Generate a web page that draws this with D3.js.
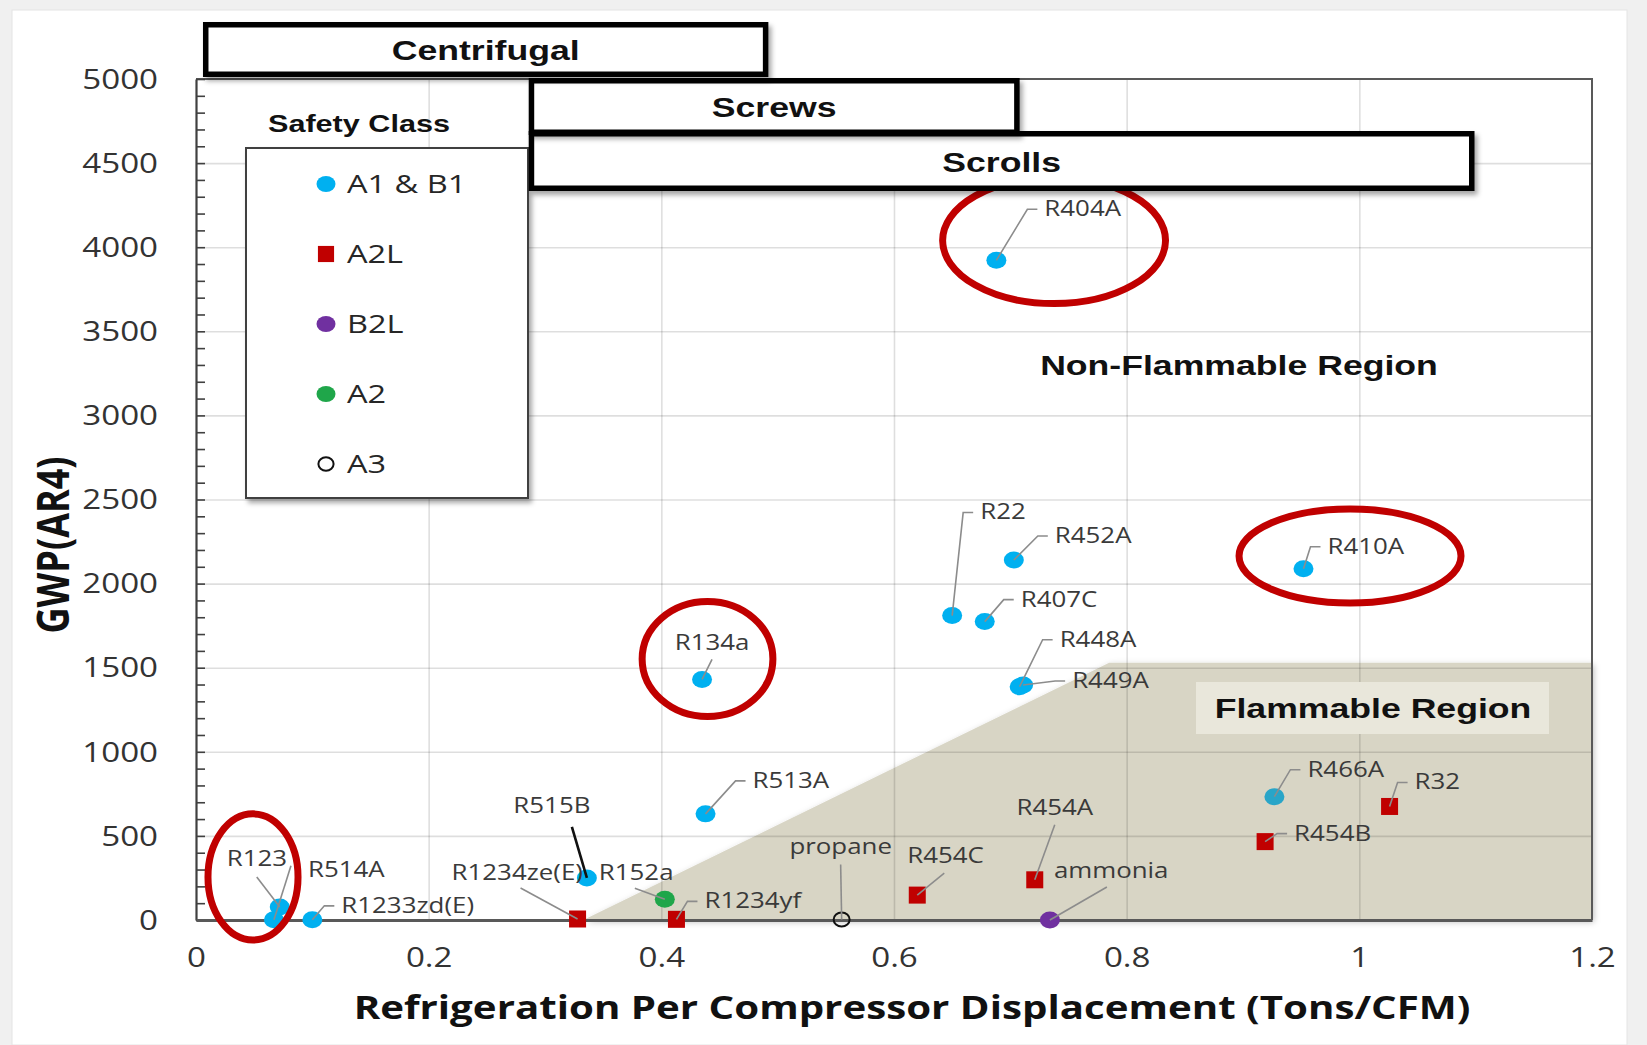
<!DOCTYPE html>
<html>
<head>
<meta charset="utf-8">
<script src="https://cdn.jsdelivr.net/npm/d3@7"></script>
<style>
  html, body { margin: 0; padding: 0; background: #f0f0f0; }
  svg { display: block; }
</style>
</head>
<body>
<svg id="chart" width="1647" height="1045"></svg>
<script>
// ---- Refrigerant data: capacity per displacement vs. GWP (AR4) ----
const refrigerants = ["R404A", "R22", "R452A", "R407C", "R448A", "R449A", "R410A", "R134a", "R513A",
  "R515B", "R1234ze(E)", "R152a", "R1234yf", "propane", "R454C", "R454A", "ammonia", "R466A",
  "R32", "R454B", "R123", "R514A", "R1233zd(E)"];
const tonsPerCfm = [0.688, 0.650, 0.703, 0.678, 0.708, 0.711, 0.952, 0.435, 0.438,
  0.336, 0.328, 0.403, 0.413, 0.555, 0.620, 0.721, 0.734, 0.927,
  1.026, 0.919, 0.072, 0.067, 0.100];
const gwpAR4 = [3922, 1810, 2140, 1774, 1387, 1397, 2088, 1430, 631,
  250, 6, 124, 4, 3, 148, 239, 0, 733,
  675, 466, 77, 2, 1];
const safetyClass = ["A1 & B1", "A1 & B1", "A1 & B1", "A1 & B1", "A1 & B1", "A1 & B1", "A1 & B1", "A1 & B1", "A1 & B1",
  "A1 & B1", "A2L", "A2", "A2L", "A3", "A2L", "A2L", "B2L", "A1 & B1",
  "A2L", "A2L", "A1 & B1", "A1 & B1", "A1 & B1"];

const legendClasses = ["A1 & B1", "A2L", "B2L", "A2", "A3"];
const xTickValues = [0, 0.2, 0.4, 0.6, 0.8, 1, 1.2];
const yTickValues = [0, 500, 1000, 1500, 2000, 2500, 3000, 3500, 4000, 4500, 5000];

// Compressor application ranges (Tons/CFM)
const compressorTypes = ["Centrifugal", "Screws", "Scrolls"];
const compressorFrom = [0.006, 0.286, 0.286];
const compressorTo = [0.492, 0.708, 1.099];

// Flammable region boundary
const regionX = [0.333, 0.785, 1.2, 1.2];
const regionY = [0, 1530, 1530, 0];

// ---- Styling / layout ----
const classColor = { "A1 & B1": "#00b0f0", "A2L": "#c00000", "B2L": "#7030a0", "A2": "#1fa64a", "A3": "none" };
const colorOverride = { "R466A": "#29a5c8" };
const SX = 1.25;                 // horizontal text stretch
const compressorBoxRows = { "Centrifugal": [22, 77], "Screws": [78, 135], "Scrolls": [131, 191] };

// callout placement relative to each marker (pixels)
const callouts = {
  "R404A": { dx: 48, dy: -52 },
  "R22": { dx: 28, dy: -104 },
  "R452A": { dx: 41, dy: -25 },
  "R407C": { dx: 36, dy: -23 },
  "R448A": { dx: 40, dy: -48 },
  "R449A": { dx: 49, dy: -5 },
  "R410A": { dx: 24, dy: -23 },
  "R134a": { dx: 10, dy: -37, anchor: "middle", from: [10, -20] },
  "R513A": { dx: 47, dy: -34 },
  "R515B": { dx: -35, dy: -73, anchor: "middle", from: [-15, -51], dark: true },
  "R1234ze(E)": { dx: -126, dy: -47, anchor: "start", from: [-57, -31] },
  "R152a": { dx: -66, dy: -27, anchor: "start", from: [-30, -11] },
  "R1234yf": { dx: 28, dy: -19 },
  "propane": { dx: -1, dy: -73, anchor: "middle", from: [-1, -55] },
  "R454C": { dx: -10, dy: -40, anchor: "start", from: [27, -22] },
  "R454A": { dx: 20, dy: -73, anchor: "middle", from: [20, -55] },
  "ammonia": { dx: 4, dy: -50, anchor: "start", from: [57, -33] },
  "R466A": { dx: 33, dy: -28 },
  "R32": { dx: 25, dy: -25 },
  "R454B": { dx: 29, dy: -9 },
  "R123": { dx: -53, dy: -49, anchor: "start", from: [-23, -30] },
  "R514A": { dx: 34, dy: -51, anchor: "start", from: [17, -54] },
  "R1233zd(E)": { dx: 29, dy: -15 }
};

// highlighted refrigerants (ellipse centre / radii in data units)
const highlights = [
  { cx: 0.7376, cy: 4040, rx: 0.0958, ry: 375 },
  { cx: 0.992, cy: 2164, rx: 0.0954, ry: 279 },
  { cx: 0.4397, cy: 1552, rx: 0.0562, ry: 342 },
  { cx: 0.049, cy: 256, rx: 0.0387, ry: 375 }
];

const data = refrigerants.map((name, i) => ({
  name, x: tonsPerCfm[i], y: gwpAR4[i], cls: safetyClass[i]
}));

const svg = d3.select("#chart");

const defs = svg.append("defs");
defs.append("filter").attr("id", "shadow").attr("x", "-10%").attr("y", "-20%").attr("width", "130%").attr("height", "160%")
  .append("feDropShadow").attr("dx", 3).attr("dy", 4).attr("stdDeviation", 2.5)
  .attr("flood-color", "#000").attr("flood-opacity", 0.35);
defs.append("filter").attr("id", "softShadow").attr("x", "-10%").attr("y", "-10%").attr("width", "130%").attr("height", "130%")
  .append("feDropShadow").attr("dx", 2).attr("dy", 2).attr("stdDeviation", 3)
  .attr("flood-color", "#000").attr("flood-opacity", 0.25);

// page panel
svg.append("rect").attr("x", 12).attr("y", 10).attr("width", 1615).attr("height", 1035)
  .attr("fill", "#ffffff").attr("stroke", "#e4e4e4");

const x = d3.scaleLinear().domain([0, 1.2]).range([196, 1592]);
const y = d3.scaleLinear().domain([0, 5000]).range([920, 79]);

function stext(parent, px, py, str, o) {
  const g = parent.append("g").attr("transform", `translate(${px},${py}) scale(${o.sx ?? SX},1)` + (o.rotate ? ` rotate(${o.rotate})` : ""));
  return g.append("text")
    .attr("text-anchor", o.anchor || "start")
    .attr("dy", "0.35em")
    .style("font-family", o.family || "'Open Sans', sans-serif")
    .style("font-size", o.size + "px")
    .style("font-weight", o.weight || 400)
    .attr("fill", o.fill || "#404040")
    .text(str);
}

// flammable region
const regionPts = regionX.map((v, i) => [x(v), y(regionY[i])]);
svg.append("path")
  .attr("d", d3.line()(regionPts) + "Z")
  .attr("fill", "#d8d5c5")
  .attr("filter", "url(#softShadow)");

// gridlines
svg.append("g").attr("transform", `translate(${x(0)},0)`)
  .call(d3.axisLeft(y).tickValues(yTickValues.slice(1, -1)).tickSize(-(x(1.2) - x(0))).tickFormat(""))
  .call(g => g.select(".domain").remove())
  .call(g => g.selectAll("line").attr("stroke", "rgba(0,0,0,0.13)").attr("stroke-width", 1.6));
svg.append("g").attr("transform", `translate(0,${y(0)})`)
  .call(d3.axisBottom(x).tickValues(xTickValues.slice(1, -1)).tickSize(-(y(0) - y(5000))).tickFormat(""))
  .call(g => g.select(".domain").remove())
  .call(g => g.selectAll("line").attr("stroke", "rgba(0,0,0,0.13)").attr("stroke-width", 1.6));

// plot frame (top, right)
svg.append("path")
  .attr("d", `M${x(0)},${y(5000)}H${x(1.2)}V${y(0)}`)
  .attr("fill", "none").attr("stroke", "#595959").attr("stroke-width", 2);

// y axis with inner minor ticks
svg.append("g").attr("transform", `translate(${x(0)},0)`)
  .call(d3.axisRight(y).tickValues(d3.range(0, 5001, 100)).tickSize(9).tickSizeOuter(0).tickFormat(""))
  .call(g => g.select(".domain").attr("stroke", "#404040").attr("stroke-width", 2.2))
  .call(g => g.selectAll("line").attr("stroke", "#404040").attr("stroke-width", 1.6));
svg.append("g").attr("transform", `translate(${x(0)},0)`)
  .call(d3.axisLeft(y).tickValues(yTickValues).tickSize(0).tickFormat(d3.format("d")))
  .call(g => g.select(".domain").remove())
  .call(g => g.selectAll("text")
    .attr("x", -38 / SX).attr("dy", "0.35em")
    .attr("transform", `scale(${SX},1)`)
    .attr("fill", "#333")
    .style("font-family", "'Open Sans', sans-serif").style("font-size", "26.5px"));

// x axis
svg.append("g").attr("transform", `translate(0,${y(0)})`)
  .call(d3.axisBottom(x).tickValues(xTickValues).tickSize(0).tickSizeOuter(0).tickFormat(d => String(+d.toFixed(1))))
  .call(g => g.select(".domain").attr("stroke", "#595959").attr("stroke-width", 3))
  .call(g => g.selectAll("text")
    .attr("y", 47).attr("dy", "0")
    .attr("transform", `scale(${SX},1)`)
    .attr("fill", "#333")
    .style("font-family", "'Open Sans', sans-serif").style("font-size", "26.5px"));

// axis titles
stext(svg, 912, 1007, "Refrigeration Per Compressor Displacement (Tons/CFM)",
  { size: 33, weight: 700, anchor: "middle", fill: "#111", sx: 1.22 });
stext(svg, 53, 545, "GWP(AR4)", { size: 36, weight: 700, anchor: "middle", fill: "#111", rotate: -90 });

// region labels
stext(svg, 1239, 365, "Non-Flammable Region",
  { size: 28.5, weight: 700, anchor: "middle", fill: "#111", family: "'Liberation Sans', Arial, sans-serif" });
svg.append("rect").attr("x", 1196).attr("y", 682).attr("width", 353).attr("height", 52).attr("fill", "#e9e7db");
stext(svg, 1373, 708, "Flammable Region",
  { size: 28.5, weight: 700, anchor: "middle", fill: "#111", family: "'Liberation Sans', Arial, sans-serif" });

// markers
function marker(g, cls, cx, cy, col, k = 1) {
  if (cls === "A2L") {
    g.append("rect").attr("x", cx - 8.5 * k).attr("y", cy - 8.5 * k)
      .attr("width", 17 * k).attr("height", 17 * k).attr("fill", col);
  } else if (cls === "A3") {
    g.append("ellipse").attr("cx", cx).attr("cy", cy).attr("rx", 8 * k).attr("ry", 7 * k)
      .attr("fill", "none").attr("stroke", "#111").attr("stroke-width", 2);
  } else {
    g.append("ellipse").attr("cx", cx).attr("cy", cy).attr("rx", 10 * k).attr("ry", 8.5 * k).attr("fill", col);
  }
}

const pointLayer = svg.append("g");
data.forEach(d => marker(pointLayer, d.cls, x(d.x), y(d.y), colorOverride[d.name] || classColor[d.cls]));

// callout leaders and labels
const labelLayer = svg.append("g");
data.forEach(d => {
  const c = callouts[d.name];
  const px = x(d.x), py = y(d.y);
  const lx = px + c.dx, ly = py + c.dy;
  let pts;
  if (c.from) {
    pts = [[px + c.from[0], py + c.from[1]], [px, py]];
  } else {
    pts = [[px, py], [lx - 17, ly + 1], [lx - 7, ly + 1]];
  }
  labelLayer.append("path")
    .attr("d", d3.line()(pts))
    .attr("fill", "none")
    .attr("stroke", c.dark ? "#111" : "#8c8c8c")
    .attr("stroke-width", c.dark ? 2.6 : 1.6);
  stext(labelLayer, lx, ly, d.name, { size: 22.5, anchor: c.anchor || "start", fill: "#3a3a3a", sx: 1.15 });
});

// highlight ellipses
svg.append("g").selectAll("ellipse").data(highlights).join("ellipse")
  .attr("cx", d => x(d.cx)).attr("cy", d => y(d.cy))
  .attr("rx", d => x(d.rx) - x(0)).attr("ry", d => y(0) - y(d.ry))
  .attr("fill", "none").attr("stroke", "#c00000").attr("stroke-width", 7);

// legend
const legend = svg.append("g");
legend.append("rect").attr("x", 246).attr("y", 148).attr("width", 282).attr("height", 350)
  .attr("fill", "#fff").attr("stroke", "#404040").attr("stroke-width", 2).attr("filter", "url(#shadow)");
stext(legend, 359, 123, "Safety Class",
  { size: 24.5, weight: 700, anchor: "middle", fill: "#111", family: "'Liberation Sans', Arial, sans-serif" });
legendClasses.forEach((cls, i) => {
  const ly = 184 + i * 70;
  marker(legend, cls, 326, ly, classColor[cls], 0.95);
  stext(legend, 347, ly, cls, { size: 26, fill: "#262626", sx: 1.25 });
});

// compressor type bars
const boxLayer = svg.append("g");
[2, 1, 0].forEach(i => {
  const name = compressorTypes[i];
  const [top, bottom] = compressorBoxRows[name];
  const x0 = x(compressorFrom[i]), x1 = x(compressorTo[i]);
  boxLayer.append("rect")
    .attr("x", x0 + 2.75).attr("y", top + 2.75)
    .attr("width", x1 - x0 - 5.5).attr("height", bottom - top - 5.5)
    .attr("fill", "#fff").attr("stroke", "#000").attr("stroke-width", 5.5)
    .attr("filter", "url(#shadow)");
  stext(boxLayer, (x0 + x1) / 2, (top + bottom) / 2 + 1, name,
    { size: 28.5, weight: 700, anchor: "middle", fill: "#111", family: "'Liberation Sans', Arial, sans-serif" });
});
</script>
</body>
</html>
